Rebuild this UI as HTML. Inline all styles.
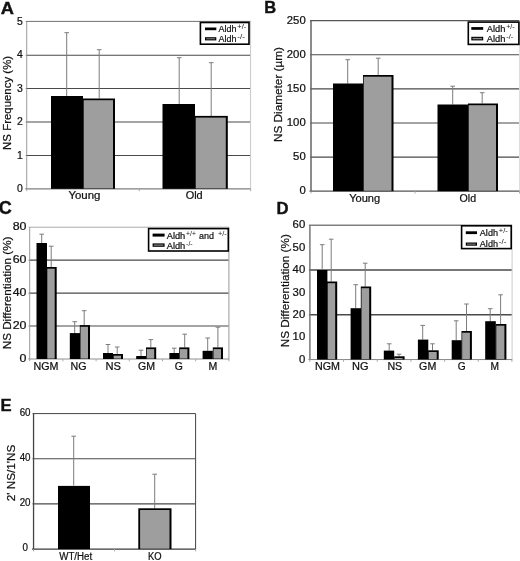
<!DOCTYPE html>
<html><head><meta charset="utf-8"><title>Figure</title>
<style>
html,body{margin:0;padding:0;background:#fff;}
body{width:520px;height:561px;overflow:hidden;}
text{stroke:#111;stroke-width:0.22px;}
svg{display:block;filter:grayscale(1);font-family:'Liberation Sans', sans-serif;fill:#111;}
</style></head><body>
<svg width="520" height="561" viewBox="0 0 520 561">
<rect x="0" y="0" width="520" height="561" fill="#fff"/>
<line x1="25.73" y1="21.4" x2="250.6" y2="21.4" stroke="#707070" stroke-width="1"/>
<line x1="25.73" y1="55.25" x2="250.6" y2="55.25" stroke="#4a4a4a" stroke-width="1.1"/>
<line x1="25.73" y1="88.5" x2="250.6" y2="88.5" stroke="#4a4a4a" stroke-width="1.1"/>
<line x1="25.73" y1="122.0" x2="250.6" y2="122.0" stroke="#4a4a4a" stroke-width="1.1"/>
<line x1="25.73" y1="155.5" x2="250.6" y2="155.5" stroke="#4a4a4a" stroke-width="1.1"/>
<line x1="26.73" y1="21.4" x2="26.73" y2="189.35" stroke="#999" stroke-width="1"/>
<line x1="250.6" y1="21.4" x2="250.6" y2="189.35" stroke="#c8c8c8" stroke-width="1"/>
<line x1="25.23" y1="188.85" x2="250.6" y2="188.85" stroke="#808080" stroke-width="1.2"/>
<line x1="26.73" y1="188.85" x2="26.73" y2="191.15" stroke="#aaa" stroke-width="1"/>
<line x1="139.3" y1="188.85" x2="139.3" y2="191.15" stroke="#aaa" stroke-width="1"/>
<line x1="250.6" y1="188.85" x2="250.6" y2="191.15" stroke="#aaa" stroke-width="1"/>
<line x1="66.7" y1="32.7" x2="66.7" y2="96" stroke="#7c7c7c" stroke-width="1"/>
<line x1="64.4" y1="32.7" x2="69.0" y2="32.7" stroke="#7c7c7c" stroke-width="1"/>
<line x1="99.2" y1="49.7" x2="99.2" y2="98.5" stroke="#7c7c7c" stroke-width="1"/>
<line x1="96.9" y1="49.7" x2="101.5" y2="49.7" stroke="#7c7c7c" stroke-width="1"/>
<line x1="179.2" y1="57.7" x2="179.2" y2="104" stroke="#7c7c7c" stroke-width="1"/>
<line x1="176.89999999999998" y1="57.7" x2="181.5" y2="57.7" stroke="#7c7c7c" stroke-width="1"/>
<line x1="211.2" y1="62.7" x2="211.2" y2="116.5" stroke="#7c7c7c" stroke-width="1"/>
<line x1="208.89999999999998" y1="62.7" x2="213.5" y2="62.7" stroke="#7c7c7c" stroke-width="1"/>
<rect x="51.00" y="96.00" width="32.00" height="92.85" fill="#000"/>
<rect x="83.00" y="98.50" width="32.00" height="90.35" fill="#000"/>
<rect x="83.70" y="100.20" width="29.30" height="88.25" fill="#9e9e9e"/>
<rect x="162.50" y="104.00" width="32.50" height="84.85" fill="#000"/>
<rect x="195.00" y="115.90" width="32.80" height="72.95" fill="#000"/>
<rect x="195.70" y="117.60" width="30.10" height="70.85" fill="#9e9e9e"/>
<text x="22.8" y="24.5" font-size="10" text-anchor="end" font-weight="normal" textLength="5.8" lengthAdjust="spacingAndGlyphs">5</text>
<text x="22.8" y="58.35" font-size="10" text-anchor="end" font-weight="normal" textLength="5.8" lengthAdjust="spacingAndGlyphs">4</text>
<text x="22.8" y="91.6" font-size="10" text-anchor="end" font-weight="normal" textLength="5.8" lengthAdjust="spacingAndGlyphs">3</text>
<text x="22.8" y="125.1" font-size="10" text-anchor="end" font-weight="normal" textLength="5.8" lengthAdjust="spacingAndGlyphs">2</text>
<text x="22.8" y="158.6" font-size="10" text-anchor="end" font-weight="normal" textLength="5.8" lengthAdjust="spacingAndGlyphs">1</text>
<text x="22.8" y="191.95" font-size="10" text-anchor="end" font-weight="normal" textLength="5.8" lengthAdjust="spacingAndGlyphs">0</text>
<text x="84.4" y="199.4" font-size="10" text-anchor="middle" font-weight="normal" textLength="32" lengthAdjust="spacingAndGlyphs">Young</text>
<text x="194.2" y="199.4" font-size="10" text-anchor="middle" font-weight="normal" textLength="17" lengthAdjust="spacingAndGlyphs">Old</text>
<text x="10.9" y="102.9" font-size="11" text-anchor="middle" font-weight="normal" textLength="94" lengthAdjust="spacingAndGlyphs" transform="rotate(-90 10.9 102.9)">NS Frequency (%)</text>
<text x="0.8" y="14.2" font-size="16.8" text-anchor="start" font-weight="bold" textLength="13.2" lengthAdjust="spacingAndGlyphs" style="stroke-width:0.4px">A</text>
<rect x="200.40" y="22.50" width="48.60" height="21.70" fill="#fff" stroke="#000" stroke-width="1.6"/>
<rect x="205.00" y="27.50" width="11.30" height="2.70" fill="#000"/>
<rect x="205.00" y="37.20" width="11.30" height="3.20" fill="#000"/>
<rect x="206.20" y="38.30" width="8.90" height="1.00" fill="#8a8a8a"/>
<text x="218.5" y="32.2" font-size="9.4" text-anchor="start" font-weight="normal" textLength="18" lengthAdjust="spacingAndGlyphs">Aldh</text>
<text x="237.3" y="29.400000000000002" font-size="6.5" text-anchor="start" font-weight="normal" textLength="9" lengthAdjust="spacingAndGlyphs" style="stroke-width:0">+/-</text>
<text x="218.5" y="42.2" font-size="9.4" text-anchor="start" font-weight="normal" textLength="18" lengthAdjust="spacingAndGlyphs">Aldh</text>
<text x="237.3" y="39.400000000000006" font-size="6.5" text-anchor="start" font-weight="normal" textLength="7.5" lengthAdjust="spacingAndGlyphs" style="stroke-width:0">-/-</text>
<line x1="310.0" y1="20.7" x2="519.5" y2="20.7" stroke="#555" stroke-width="1.3"/>
<line x1="310.0" y1="54.8" x2="519.5" y2="54.8" stroke="#4a4a4a" stroke-width="1.1"/>
<line x1="310.0" y1="88.9" x2="519.5" y2="88.9" stroke="#4a4a4a" stroke-width="1.1"/>
<line x1="310.0" y1="123.00000000000001" x2="519.5" y2="123.00000000000001" stroke="#4a4a4a" stroke-width="1.1"/>
<line x1="310.0" y1="157.1" x2="519.5" y2="157.1" stroke="#4a4a4a" stroke-width="1.1"/>
<line x1="311.0" y1="20.7" x2="311.0" y2="191.7" stroke="#666" stroke-width="1.5"/>
<line x1="519.5" y1="20.7" x2="519.5" y2="191.7" stroke="#ddd" stroke-width="1"/>
<line x1="309.5" y1="191.2" x2="519.5" y2="191.2" stroke="#555" stroke-width="1.3"/>
<line x1="311.0" y1="191.2" x2="311.0" y2="193.5" stroke="#aaa" stroke-width="1"/>
<line x1="415" y1="191.2" x2="415" y2="193.5" stroke="#aaa" stroke-width="1"/>
<line x1="519.5" y1="191.2" x2="519.5" y2="193.5" stroke="#aaa" stroke-width="1"/>
<line x1="347.7" y1="59.7" x2="347.7" y2="83.5" stroke="#7c7c7c" stroke-width="1"/>
<line x1="345.4" y1="59.7" x2="350.0" y2="59.7" stroke="#7c7c7c" stroke-width="1"/>
<line x1="378.2" y1="58.2" x2="378.2" y2="75" stroke="#7c7c7c" stroke-width="1"/>
<line x1="375.9" y1="58.2" x2="380.5" y2="58.2" stroke="#7c7c7c" stroke-width="1"/>
<line x1="452.7" y1="86.2" x2="452.7" y2="104.5" stroke="#7c7c7c" stroke-width="1"/>
<line x1="450.4" y1="86.2" x2="455.0" y2="86.2" stroke="#7c7c7c" stroke-width="1"/>
<line x1="482.2" y1="92.7" x2="482.2" y2="103.5" stroke="#7c7c7c" stroke-width="1"/>
<line x1="479.9" y1="92.7" x2="484.5" y2="92.7" stroke="#7c7c7c" stroke-width="1"/>
<rect x="333.00" y="83.50" width="30.00" height="107.70" fill="#000"/>
<rect x="363.00" y="75.00" width="30.50" height="116.20" fill="#000"/>
<rect x="363.70" y="76.70" width="27.80" height="114.10" fill="#9e9e9e"/>
<rect x="437.50" y="104.50" width="30.50" height="86.70" fill="#000"/>
<rect x="468.00" y="103.50" width="30.00" height="87.70" fill="#000"/>
<rect x="468.70" y="105.20" width="27.30" height="85.60" fill="#9e9e9e"/>
<text x="305.7" y="23.8" font-size="10" text-anchor="end" font-weight="normal" textLength="18.9" lengthAdjust="spacingAndGlyphs">250</text>
<text x="305.7" y="57.9" font-size="10" text-anchor="end" font-weight="normal" textLength="18.9" lengthAdjust="spacingAndGlyphs">200</text>
<text x="305.7" y="92.0" font-size="10" text-anchor="end" font-weight="normal" textLength="18.9" lengthAdjust="spacingAndGlyphs">150</text>
<text x="305.7" y="126.10000000000001" font-size="10" text-anchor="end" font-weight="normal" textLength="18.9" lengthAdjust="spacingAndGlyphs">100</text>
<text x="305.7" y="160.2" font-size="10" text-anchor="end" font-weight="normal" textLength="12.6" lengthAdjust="spacingAndGlyphs">50</text>
<text x="305.7" y="194.29999999999998" font-size="10" text-anchor="end" font-weight="normal" textLength="6.3" lengthAdjust="spacingAndGlyphs">0</text>
<text x="364.7" y="201.8" font-size="10" text-anchor="middle" font-weight="normal" textLength="31" lengthAdjust="spacingAndGlyphs">Young</text>
<text x="467.8" y="201.8" font-size="10" text-anchor="middle" font-weight="normal" textLength="16.5" lengthAdjust="spacingAndGlyphs">Old</text>
<text x="282" y="94.5" font-size="11" text-anchor="middle" font-weight="normal" textLength="95" lengthAdjust="spacingAndGlyphs" transform="rotate(-90 282 94.5)">NS Diameter (µm)</text>
<text x="264.2" y="12.8" font-size="16.5" text-anchor="start" font-weight="bold" style="stroke-width:0.4px">B</text>
<rect x="468.30" y="22.10" width="50.60" height="22.30" fill="#fff" stroke="#000" stroke-width="1.6"/>
<rect x="471.30" y="27.10" width="11.90" height="2.70" fill="#000"/>
<rect x="471.30" y="36.80" width="11.90" height="3.60" fill="#000"/>
<rect x="472.50" y="37.90" width="9.50" height="1.40" fill="#8a8a8a"/>
<text x="486.8" y="32.2" font-size="9.4" text-anchor="start" font-weight="normal" textLength="18.6" lengthAdjust="spacingAndGlyphs">Aldh</text>
<text x="506.20000000000005" y="29.400000000000002" font-size="6.5" text-anchor="start" font-weight="normal" textLength="8.4" lengthAdjust="spacingAndGlyphs" style="stroke-width:0">+/-</text>
<text x="486.8" y="41.9" font-size="9.4" text-anchor="start" font-weight="normal" textLength="18.6" lengthAdjust="spacingAndGlyphs">Aldh</text>
<text x="506.20000000000005" y="39.1" font-size="6.5" text-anchor="start" font-weight="normal" textLength="7" lengthAdjust="spacingAndGlyphs" style="stroke-width:0">-/-</text>
<line x1="28.7" y1="227.2" x2="228.9" y2="227.2" stroke="#aaa" stroke-width="1"/>
<line x1="28.7" y1="260.15" x2="228.9" y2="260.15" stroke="#4a4a4a" stroke-width="1.1"/>
<line x1="28.7" y1="293.1" x2="228.9" y2="293.1" stroke="#4a4a4a" stroke-width="1.1"/>
<line x1="28.7" y1="326.05" x2="228.9" y2="326.05" stroke="#4a4a4a" stroke-width="1.1"/>
<line x1="29.7" y1="227.2" x2="29.7" y2="359.5" stroke="#999" stroke-width="1"/>
<line x1="228.9" y1="227.2" x2="228.9" y2="359.5" stroke="#aaa" stroke-width="1.2"/>
<line x1="28.2" y1="359" x2="228.9" y2="359" stroke="#909090" stroke-width="1"/>
<line x1="29.7" y1="359" x2="29.7" y2="361.3" stroke="#aaa" stroke-width="1"/>
<line x1="62.900000000000006" y1="359" x2="62.900000000000006" y2="361.3" stroke="#aaa" stroke-width="1"/>
<line x1="96.10000000000001" y1="359" x2="96.10000000000001" y2="361.3" stroke="#aaa" stroke-width="1"/>
<line x1="129.3" y1="359" x2="129.3" y2="361.3" stroke="#aaa" stroke-width="1"/>
<line x1="162.5" y1="359" x2="162.5" y2="361.3" stroke="#aaa" stroke-width="1"/>
<line x1="195.7" y1="359" x2="195.7" y2="361.3" stroke="#aaa" stroke-width="1"/>
<line x1="228.9" y1="359" x2="228.9" y2="361.3" stroke="#aaa" stroke-width="1"/>
<line x1="41.7" y1="234.2" x2="41.7" y2="243" stroke="#7c7c7c" stroke-width="1"/>
<line x1="39.400000000000006" y1="234.2" x2="44.0" y2="234.2" stroke="#7c7c7c" stroke-width="1"/>
<line x1="51.2" y1="246.2" x2="51.2" y2="267" stroke="#7c7c7c" stroke-width="1"/>
<line x1="48.900000000000006" y1="246.2" x2="53.5" y2="246.2" stroke="#7c7c7c" stroke-width="1"/>
<line x1="74.7" y1="321.7" x2="74.7" y2="333" stroke="#7c7c7c" stroke-width="1"/>
<line x1="72.4" y1="321.7" x2="77.0" y2="321.7" stroke="#7c7c7c" stroke-width="1"/>
<line x1="84.2" y1="310.7" x2="84.2" y2="325.5" stroke="#7c7c7c" stroke-width="1"/>
<line x1="81.9" y1="310.7" x2="86.5" y2="310.7" stroke="#7c7c7c" stroke-width="1"/>
<line x1="108.0" y1="344.5" x2="108.0" y2="353" stroke="#7c7c7c" stroke-width="1"/>
<line x1="105.7" y1="344.5" x2="110.3" y2="344.5" stroke="#7c7c7c" stroke-width="1"/>
<line x1="117.2" y1="347.0" x2="117.2" y2="354" stroke="#7c7c7c" stroke-width="1"/>
<line x1="114.9" y1="347.0" x2="119.5" y2="347.0" stroke="#7c7c7c" stroke-width="1"/>
<line x1="141.0" y1="350.2" x2="141.0" y2="356" stroke="#7c7c7c" stroke-width="1"/>
<line x1="138.7" y1="350.2" x2="143.3" y2="350.2" stroke="#7c7c7c" stroke-width="1"/>
<line x1="150.79999999999998" y1="339.59999999999997" x2="150.79999999999998" y2="347.4" stroke="#7c7c7c" stroke-width="1"/>
<line x1="148.49999999999997" y1="339.59999999999997" x2="153.1" y2="339.59999999999997" stroke="#7c7c7c" stroke-width="1"/>
<line x1="174.2" y1="348.2" x2="174.2" y2="353" stroke="#7c7c7c" stroke-width="1"/>
<line x1="171.89999999999998" y1="348.2" x2="176.5" y2="348.2" stroke="#7c7c7c" stroke-width="1"/>
<line x1="184.7" y1="334.2" x2="184.7" y2="347.4" stroke="#7c7c7c" stroke-width="1"/>
<line x1="182.39999999999998" y1="334.2" x2="187.0" y2="334.2" stroke="#7c7c7c" stroke-width="1"/>
<line x1="207.7" y1="338.0" x2="207.7" y2="350.8" stroke="#7c7c7c" stroke-width="1"/>
<line x1="205.39999999999998" y1="338.0" x2="210.0" y2="338.0" stroke="#7c7c7c" stroke-width="1"/>
<line x1="217.89999999999998" y1="327.2" x2="217.89999999999998" y2="347.4" stroke="#7c7c7c" stroke-width="1"/>
<line x1="215.59999999999997" y1="327.2" x2="220.2" y2="327.2" stroke="#7c7c7c" stroke-width="1"/>
<rect x="36.50" y="243.00" width="10.50" height="116.00" fill="#000"/>
<rect x="46.60" y="267.00" width="10.10" height="92.00" fill="#000"/>
<rect x="47.30" y="268.70" width="7.40" height="89.90" fill="#9e9e9e"/>
<rect x="69.80" y="333.10" width="10.20" height="25.90" fill="#000"/>
<rect x="79.80" y="325.10" width="10.20" height="33.90" fill="#000"/>
<rect x="80.50" y="326.80" width="7.50" height="31.80" fill="#9e9e9e"/>
<rect x="103.00" y="353.00" width="10.00" height="6.00" fill="#000"/>
<rect x="113.00" y="354.00" width="10.00" height="5.00" fill="#000"/>
<rect x="113.70" y="355.70" width="7.30" height="2.90" fill="#9e9e9e"/>
<rect x="136.20" y="356.00" width="9.80" height="3.00" fill="#000"/>
<rect x="146.00" y="347.40" width="10.20" height="11.60" fill="#000"/>
<rect x="146.70" y="349.10" width="7.50" height="9.50" fill="#9e9e9e"/>
<rect x="169.40" y="353.00" width="9.80" height="6.00" fill="#000"/>
<rect x="179.20" y="347.40" width="10.20" height="11.60" fill="#000"/>
<rect x="179.90" y="349.10" width="7.50" height="9.50" fill="#9e9e9e"/>
<rect x="202.60" y="350.80" width="10.20" height="8.20" fill="#000"/>
<rect x="212.80" y="347.40" width="10.20" height="11.60" fill="#000"/>
<rect x="213.50" y="349.10" width="7.50" height="9.50" fill="#9e9e9e"/>
<text x="26.5" y="229.89999999999998" font-size="10" text-anchor="end" font-weight="normal" textLength="13.8" lengthAdjust="spacingAndGlyphs">80</text>
<text x="26.5" y="262.84999999999997" font-size="10" text-anchor="end" font-weight="normal" textLength="13.8" lengthAdjust="spacingAndGlyphs">60</text>
<text x="26.5" y="295.8" font-size="10" text-anchor="end" font-weight="normal" textLength="13.8" lengthAdjust="spacingAndGlyphs">40</text>
<text x="26.5" y="328.75" font-size="10" text-anchor="end" font-weight="normal" textLength="13.8" lengthAdjust="spacingAndGlyphs">20</text>
<text x="26.5" y="361.7" font-size="10" text-anchor="end" font-weight="normal" textLength="6.9" lengthAdjust="spacingAndGlyphs">0</text>
<text x="33.5" y="369.8" font-size="10" text-anchor="start" font-weight="normal" textLength="25" lengthAdjust="spacingAndGlyphs">NGM</text>
<text x="70.5" y="369.8" font-size="10" text-anchor="start" font-weight="normal" textLength="16" lengthAdjust="spacingAndGlyphs">NG</text>
<text x="105.5" y="369.8" font-size="10" text-anchor="start" font-weight="normal" textLength="15.5" lengthAdjust="spacingAndGlyphs">NS</text>
<text x="138.1" y="369.8" font-size="10" text-anchor="start" font-weight="normal" textLength="17.0" lengthAdjust="spacingAndGlyphs">GM</text>
<text x="174.7" y="369.8" font-size="10" text-anchor="start" font-weight="normal" textLength="8.1" lengthAdjust="spacingAndGlyphs">G</text>
<text x="208.5" y="369.8" font-size="10" text-anchor="start" font-weight="normal" textLength="8.8" lengthAdjust="spacingAndGlyphs">M</text>
<text x="11.5" y="292.95" font-size="11" text-anchor="middle" font-weight="normal" textLength="112.7" lengthAdjust="spacingAndGlyphs" transform="rotate(-90 11.5 292.95)">NS Differentiation (%)</text>
<text x="-1.3" y="213.7" font-size="18" text-anchor="start" font-weight="bold" style="stroke-width:0.4px">C</text>
<rect x="148.60" y="228.60" width="79.70" height="22.40" fill="#fff" stroke="#000" stroke-width="1.6"/>
<rect x="152.60" y="233.60" width="12.00" height="3.00" fill="#000"/>
<rect x="152.60" y="243.40" width="12.00" height="3.40" fill="#000"/>
<rect x="153.80" y="244.50" width="9.60" height="1.20" fill="#8a8a8a"/>
<text x="166.7" y="238.9" font-size="9.4" text-anchor="start" font-weight="normal" textLength="18.6" lengthAdjust="spacingAndGlyphs">Aldh</text>
<text x="186.1" y="236.1" font-size="6.5" text-anchor="start" font-weight="normal" textLength="9.8" lengthAdjust="spacingAndGlyphs" style="stroke-width:0">+/+</text>
<text x="199" y="238.9" font-size="9.4" text-anchor="start" font-weight="normal" textLength="15" lengthAdjust="spacingAndGlyphs">and</text>
<text x="218" y="236.1" font-size="6.5" text-anchor="start" font-weight="normal" textLength="8.7" lengthAdjust="spacingAndGlyphs" style="stroke-width:0">+/-</text>
<text x="166.7" y="248.9" font-size="9.4" text-anchor="start" font-weight="normal" textLength="18.6" lengthAdjust="spacingAndGlyphs">Aldh</text>
<text x="186.1" y="246.1" font-size="6.5" text-anchor="start" font-weight="normal" textLength="6.5" lengthAdjust="spacingAndGlyphs" style="stroke-width:0">-/-</text>
<line x1="308.9" y1="225.25" x2="512.1" y2="225.25" stroke="#808080" stroke-width="1.5"/>
<line x1="308.9" y1="270.01666666666665" x2="512.1" y2="270.01666666666665" stroke="#4a4a4a" stroke-width="1.35"/>
<line x1="308.9" y1="314.78333333333336" x2="512.1" y2="314.78333333333336" stroke="#4a4a4a" stroke-width="1.35"/>
<line x1="309.9" y1="225.25" x2="309.9" y2="360.05" stroke="#777" stroke-width="1.5"/>
<line x1="512.1" y1="225.25" x2="512.1" y2="360.05" stroke="#ccc" stroke-width="1"/>
<line x1="308.4" y1="359.55" x2="512.1" y2="359.55" stroke="#888" stroke-width="1"/>
<line x1="309.9" y1="359.55" x2="309.9" y2="361.85" stroke="#aaa" stroke-width="1"/>
<line x1="343.57" y1="359.55" x2="343.57" y2="361.85" stroke="#aaa" stroke-width="1"/>
<line x1="377.24" y1="359.55" x2="377.24" y2="361.85" stroke="#aaa" stroke-width="1"/>
<line x1="410.90999999999997" y1="359.55" x2="410.90999999999997" y2="361.85" stroke="#aaa" stroke-width="1"/>
<line x1="444.58" y1="359.55" x2="444.58" y2="361.85" stroke="#aaa" stroke-width="1"/>
<line x1="478.25" y1="359.55" x2="478.25" y2="361.85" stroke="#aaa" stroke-width="1"/>
<line x1="511.91999999999996" y1="359.55" x2="511.91999999999996" y2="361.85" stroke="#aaa" stroke-width="1"/>
<line x1="322.2" y1="244.7" x2="322.2" y2="270" stroke="#7c7c7c" stroke-width="1"/>
<line x1="319.9" y1="244.7" x2="324.5" y2="244.7" stroke="#7c7c7c" stroke-width="1"/>
<line x1="331.2" y1="239.2" x2="331.2" y2="281.5" stroke="#7c7c7c" stroke-width="1"/>
<line x1="328.9" y1="239.2" x2="333.5" y2="239.2" stroke="#7c7c7c" stroke-width="1"/>
<line x1="355.7" y1="284.7" x2="355.7" y2="308" stroke="#7c7c7c" stroke-width="1"/>
<line x1="353.4" y1="284.7" x2="358.0" y2="284.7" stroke="#7c7c7c" stroke-width="1"/>
<line x1="365.2" y1="263.2" x2="365.2" y2="286.5" stroke="#7c7c7c" stroke-width="1"/>
<line x1="362.9" y1="263.2" x2="367.5" y2="263.2" stroke="#7c7c7c" stroke-width="1"/>
<line x1="389.2" y1="343.8" x2="389.2" y2="350.6" stroke="#7c7c7c" stroke-width="1"/>
<line x1="386.9" y1="343.8" x2="391.5" y2="343.8" stroke="#7c7c7c" stroke-width="1"/>
<line x1="399.0" y1="354.2" x2="399.0" y2="356.3" stroke="#7c7c7c" stroke-width="1"/>
<line x1="396.7" y1="354.2" x2="401.3" y2="354.2" stroke="#7c7c7c" stroke-width="1"/>
<line x1="422.7" y1="325.4" x2="422.7" y2="339.6" stroke="#7c7c7c" stroke-width="1"/>
<line x1="420.4" y1="325.4" x2="425.0" y2="325.4" stroke="#7c7c7c" stroke-width="1"/>
<line x1="432.5" y1="343.8" x2="432.5" y2="350.3" stroke="#7c7c7c" stroke-width="1"/>
<line x1="430.2" y1="343.8" x2="434.8" y2="343.8" stroke="#7c7c7c" stroke-width="1"/>
<line x1="456.2" y1="320.8" x2="456.2" y2="340.2" stroke="#7c7c7c" stroke-width="1"/>
<line x1="453.9" y1="320.8" x2="458.5" y2="320.8" stroke="#7c7c7c" stroke-width="1"/>
<line x1="466.5" y1="304.0" x2="466.5" y2="331" stroke="#7c7c7c" stroke-width="1"/>
<line x1="464.2" y1="304.0" x2="468.8" y2="304.0" stroke="#7c7c7c" stroke-width="1"/>
<line x1="490.2" y1="308.7" x2="490.2" y2="321.2" stroke="#7c7c7c" stroke-width="1"/>
<line x1="487.9" y1="308.7" x2="492.5" y2="308.7" stroke="#7c7c7c" stroke-width="1"/>
<line x1="500.59999999999997" y1="294.8" x2="500.59999999999997" y2="324" stroke="#7c7c7c" stroke-width="1"/>
<line x1="498.29999999999995" y1="294.8" x2="502.9" y2="294.8" stroke="#7c7c7c" stroke-width="1"/>
<rect x="317.00" y="270.00" width="10.40" height="89.55" fill="#000"/>
<rect x="327.00" y="281.50" width="10.20" height="78.05" fill="#000"/>
<rect x="327.70" y="283.20" width="7.50" height="75.95" fill="#9e9e9e"/>
<rect x="350.60" y="308.20" width="10.40" height="51.35" fill="#000"/>
<rect x="360.80" y="286.50" width="10.40" height="73.05" fill="#000"/>
<rect x="361.50" y="288.20" width="7.70" height="70.95" fill="#9e9e9e"/>
<rect x="383.80" y="350.60" width="10.40" height="8.95" fill="#000"/>
<rect x="394.20" y="356.30" width="10.40" height="3.25" fill="#000"/>
<rect x="394.90" y="358.00" width="7.70" height="1.15" fill="#9e9e9e"/>
<rect x="417.90" y="339.60" width="10.40" height="19.95" fill="#000"/>
<rect x="428.10" y="350.30" width="10.60" height="9.25" fill="#000"/>
<rect x="428.80" y="352.00" width="7.90" height="7.15" fill="#9e9e9e"/>
<rect x="451.70" y="340.20" width="10.00" height="19.35" fill="#000"/>
<rect x="461.50" y="331.00" width="10.40" height="28.55" fill="#000"/>
<rect x="462.20" y="332.70" width="7.70" height="26.45" fill="#9e9e9e"/>
<rect x="485.20" y="321.20" width="10.60" height="38.35" fill="#000"/>
<rect x="495.60" y="324.00" width="10.80" height="35.55" fill="#000"/>
<rect x="496.30" y="325.70" width="8.10" height="33.45" fill="#9e9e9e"/>
<text x="305.2" y="228.45" font-size="10" text-anchor="end" font-weight="normal" textLength="12.6" lengthAdjust="spacingAndGlyphs">60</text>
<text x="305.2" y="250.83333333333331" font-size="10" text-anchor="end" font-weight="normal" textLength="12.6" lengthAdjust="spacingAndGlyphs">50</text>
<text x="305.2" y="273.21666666666664" font-size="10" text-anchor="end" font-weight="normal" textLength="12.6" lengthAdjust="spacingAndGlyphs">40</text>
<text x="305.2" y="295.59999999999997" font-size="10" text-anchor="end" font-weight="normal" textLength="12.6" lengthAdjust="spacingAndGlyphs">30</text>
<text x="305.2" y="317.98333333333335" font-size="10" text-anchor="end" font-weight="normal" textLength="12.6" lengthAdjust="spacingAndGlyphs">20</text>
<text x="305.2" y="340.3666666666667" font-size="10" text-anchor="end" font-weight="normal" textLength="12.6" lengthAdjust="spacingAndGlyphs">10</text>
<text x="305.2" y="362.75" font-size="10" text-anchor="end" font-weight="normal" textLength="6.3" lengthAdjust="spacingAndGlyphs">0</text>
<text x="315.0" y="369.8" font-size="10" text-anchor="start" font-weight="normal" textLength="25.0" lengthAdjust="spacingAndGlyphs">NGM</text>
<text x="352.0" y="369.8" font-size="10" text-anchor="start" font-weight="normal" textLength="16.5" lengthAdjust="spacingAndGlyphs">NG</text>
<text x="387.4" y="369.8" font-size="10" text-anchor="start" font-weight="normal" textLength="14.8" lengthAdjust="spacingAndGlyphs">NS</text>
<text x="419.1" y="369.8" font-size="10" text-anchor="start" font-weight="normal" textLength="17.2" lengthAdjust="spacingAndGlyphs">GM</text>
<text x="457.8" y="369.8" font-size="10" text-anchor="start" font-weight="normal" textLength="7.9" lengthAdjust="spacingAndGlyphs">G</text>
<text x="490.6" y="369.8" font-size="10" text-anchor="start" font-weight="normal" textLength="8.5" lengthAdjust="spacingAndGlyphs">M</text>
<text x="289.4" y="290.7" font-size="11" text-anchor="middle" font-weight="normal" textLength="113" lengthAdjust="spacingAndGlyphs" transform="rotate(-90 289.4 290.7)">NS Differentiation (%)</text>
<text x="276.6" y="213.5" font-size="16.7" text-anchor="start" font-weight="bold" style="stroke-width:0.4px">D</text>
<rect x="461.60" y="225.80" width="49.60" height="22.80" fill="#fff" stroke="#000" stroke-width="1.6"/>
<rect x="465.80" y="231.30" width="11.20" height="2.80" fill="#000"/>
<rect x="465.80" y="242.50" width="11.20" height="3.20" fill="#000"/>
<rect x="467.00" y="243.60" width="8.80" height="1.00" fill="#8a8a8a"/>
<text x="479.8" y="236.2" font-size="9.4" text-anchor="start" font-weight="normal" textLength="18.2" lengthAdjust="spacingAndGlyphs">Aldh</text>
<text x="498.8" y="233.39999999999998" font-size="6.5" text-anchor="start" font-weight="normal" textLength="9" lengthAdjust="spacingAndGlyphs" style="stroke-width:0">+/-</text>
<text x="479.8" y="246.8" font-size="9.4" text-anchor="start" font-weight="normal" textLength="18.2" lengthAdjust="spacingAndGlyphs">Aldh</text>
<text x="498.8" y="244.0" font-size="6.5" text-anchor="start" font-weight="normal" textLength="7.5" lengthAdjust="spacingAndGlyphs" style="stroke-width:0">-/-</text>
<line x1="32.55" y1="413.6" x2="195.6" y2="413.6" stroke="#444" stroke-width="1"/>
<line x1="32.55" y1="458.7666666666667" x2="195.6" y2="458.7666666666667" stroke="#4a4a4a" stroke-width="1.2"/>
<line x1="32.55" y1="503.93333333333334" x2="195.6" y2="503.93333333333334" stroke="#4a4a4a" stroke-width="1.2"/>
<line x1="33.55" y1="413.6" x2="33.55" y2="549.6" stroke="#444" stroke-width="1.3"/>
<line x1="195.6" y1="413.6" x2="195.6" y2="549.6" stroke="#444" stroke-width="1"/>
<line x1="32.05" y1="549.1" x2="195.6" y2="549.1" stroke="#3a3a3a" stroke-width="1.4"/>
<line x1="33.55" y1="549.1" x2="33.55" y2="551.4" stroke="#aaa" stroke-width="1"/>
<line x1="114.6" y1="549.1" x2="114.6" y2="551.4" stroke="#aaa" stroke-width="1"/>
<line x1="195.6" y1="549.1" x2="195.6" y2="551.4" stroke="#aaa" stroke-width="1"/>
<line x1="73.7" y1="436.2" x2="73.7" y2="485.5" stroke="#7c7c7c" stroke-width="1"/>
<line x1="71.4" y1="436.2" x2="76.0" y2="436.2" stroke="#7c7c7c" stroke-width="1"/>
<line x1="154.7" y1="474.2" x2="154.7" y2="508.5" stroke="#7c7c7c" stroke-width="1"/>
<line x1="152.39999999999998" y1="474.2" x2="157.0" y2="474.2" stroke="#7c7c7c" stroke-width="1"/>
<rect x="58.00" y="485.90" width="32.00" height="63.20" fill="#000"/>
<rect x="138.30" y="508.30" width="33.20" height="40.80" fill="#000"/>
<rect x="140.10" y="510.00" width="29.40" height="38.70" fill="#9e9e9e"/>
<text x="25.1" y="415.70000000000005" font-size="10" text-anchor="middle" font-weight="normal" textLength="10.9" lengthAdjust="spacingAndGlyphs">60</text>
<text x="25.1" y="460.86666666666673" font-size="10" text-anchor="middle" font-weight="normal" textLength="10.9" lengthAdjust="spacingAndGlyphs">40</text>
<text x="25.1" y="506.03333333333336" font-size="10" text-anchor="middle" font-weight="normal" textLength="10.9" lengthAdjust="spacingAndGlyphs">20</text>
<text x="25.1" y="551.2" font-size="10" text-anchor="middle" font-weight="normal" textLength="5.45" lengthAdjust="spacingAndGlyphs">0</text>
<text x="75.7" y="559.7" font-size="10" text-anchor="middle" font-weight="normal" textLength="33" lengthAdjust="spacingAndGlyphs">WT/Het</text>
<text x="154.7" y="559.7" font-size="10" text-anchor="middle" font-weight="normal" textLength="13.6" lengthAdjust="spacingAndGlyphs">KO</text>
<text x="15.2" y="473" font-size="11" text-anchor="middle" font-weight="normal" textLength="56.5" lengthAdjust="spacingAndGlyphs" transform="rotate(-90 15.2 473)">2' NS/1'NS</text>
<text x="0.6" y="410.7" font-size="16.6" text-anchor="start" font-weight="bold" style="stroke-width:0.4px">E</text>
</svg>
</body></html>
